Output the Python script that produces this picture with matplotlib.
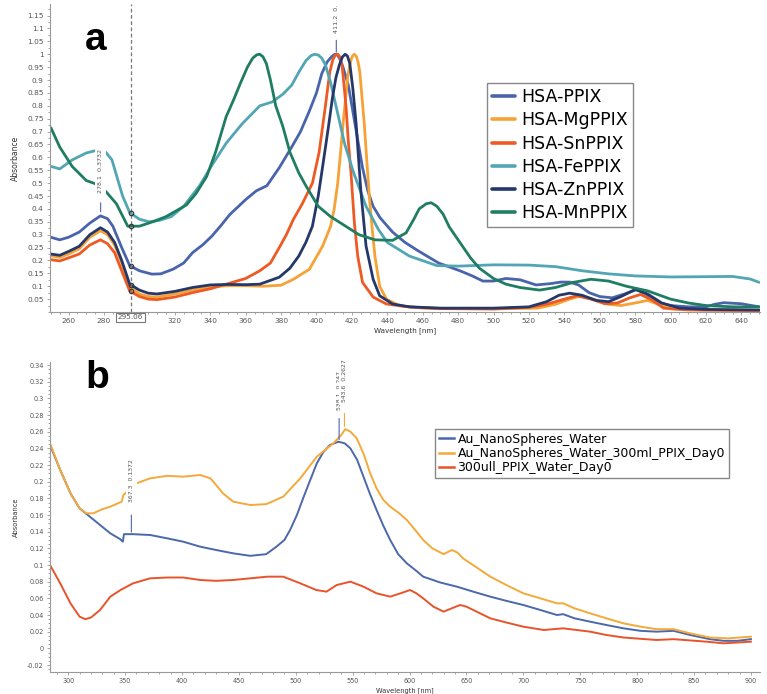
import matplotlib
matplotlib.use("Agg")
import matplotlib.pyplot as plt
import numpy as np
from matplotlib.ticker import FuncFormatter, MultipleLocator
import matplotlib.transforms as mtransforms

# ---- panel a : HSA complexes (wavelength nm, normalised absorbance)
hsa_ppix = np.array([
    (250, 0.29), (255, 0.28), (260, 0.29), (266, 0.31), (272, 0.345), (278, 0.373),
    (282, 0.362), (285, 0.333), (290, 0.25), (294.5, 0.18), (300, 0.16), (307, 0.147),
    (312, 0.148), (319, 0.166), (325, 0.19), (330, 0.23), (336, 0.262), (341, 0.295),
    (346, 0.335), (351, 0.378), (356, 0.41), (360, 0.436), (366, 0.47), (372, 0.49),
    (379, 0.56), (386, 0.64), (391, 0.70), (396, 0.78), (400, 0.85), (403, 0.925),
    (406, 0.97), (408.5, 0.99), (410.3, 1.0), (411.7, 0.998), (413, 0.985), (415, 0.95),
    (418, 0.88), (420, 0.80), (423, 0.68), (426, 0.56), (429, 0.47), (432, 0.41),
    (436, 0.365), (443, 0.31), (450, 0.27), (458, 0.235), (469, 0.19), (481, 0.16),
    (488, 0.14), (494, 0.12), (500, 0.12), (507, 0.13), (515, 0.125), (524, 0.105),
    (532, 0.11), (538, 0.116), (543, 0.116), (548, 0.105), (554, 0.075), (560, 0.06),
    (567, 0.055), (574, 0.07), (581, 0.088), (586, 0.07), (590, 0.05), (594, 0.035),
    (600, 0.025), (610, 0.02), (620, 0.02), (625, 0.03), (630, 0.036), (640, 0.032),
    (650, 0.02)])

hsa_mgppix = np.array([
    (250, 0.218), (255, 0.212), (260, 0.225), (266, 0.245), (272, 0.29), (278, 0.315),
    (282, 0.30), (286, 0.26), (290, 0.19), (294.5, 0.098), (300, 0.07), (305, 0.06),
    (310, 0.058), (320, 0.07), (330, 0.085), (340, 0.098), (350, 0.102), (360, 0.102),
    (370, 0.10), (380, 0.104), (387, 0.127), (396, 0.166), (403.5, 0.256), (408, 0.333),
    (410, 0.40), (412, 0.50), (413.5, 0.61), (415, 0.73), (416.5, 0.83), (417.7, 0.915),
    (419, 0.965), (420.2, 0.992), (421.4, 1.0), (422.5, 0.992), (423.5, 0.97), (424.5, 0.93),
    (425.5, 0.85), (427, 0.73), (428.5, 0.58), (430, 0.436), (431.5, 0.32), (433, 0.217),
    (435.7, 0.10), (439.5, 0.05), (447, 0.024), (460, 0.015), (500, 0.012), (525, 0.015),
    (535, 0.03), (543, 0.05), (549, 0.062), (556, 0.05), (565, 0.03), (572, 0.025),
    (580, 0.035), (587, 0.045), (593, 0.03), (600, 0.012), (620, 0.008), (650, 0.006)])

hsa_snppix = np.array([
    (250, 0.203), (255, 0.198), (260, 0.21), (266, 0.225), (272, 0.26), (278, 0.28),
    (282, 0.265), (286, 0.23), (290, 0.16), (294.5, 0.082), (300, 0.06), (305, 0.05),
    (310, 0.048), (320, 0.058), (330, 0.075), (340, 0.09), (350, 0.11), (360, 0.13),
    (368, 0.16), (374, 0.19), (379, 0.25), (383, 0.30), (387, 0.36), (392, 0.42),
    (397.7, 0.50), (401.5, 0.62), (405, 0.797), (407.5, 0.93), (409.3, 0.98), (410.7, 0.997),
    (412, 1.0), (413.2, 0.99), (414.5, 0.955), (416.7, 0.797), (418, 0.66), (419.5, 0.54),
    (421.4, 0.347), (423.3, 0.217), (426, 0.115), (432, 0.058), (439.5, 0.031), (452, 0.02),
    (470, 0.013), (500, 0.012), (520, 0.018), (530, 0.03), (540, 0.05), (547, 0.063),
    (555, 0.05), (563, 0.032), (570, 0.035), (577, 0.055), (583, 0.068), (590, 0.045),
    (596, 0.015), (610, 0.008), (650, 0.005)])

hsa_feppix = np.array([
    (250, 0.565), (255, 0.555), (262, 0.59), (270, 0.617), (277.5, 0.63), (281, 0.62),
    (284.5, 0.59), (290.5, 0.45), (294.5, 0.386), (300, 0.36), (305.6, 0.35), (311, 0.355),
    (318, 0.37), (325, 0.41), (334, 0.49), (341, 0.57), (349, 0.655), (358, 0.73),
    (368, 0.80), (375, 0.815), (381, 0.845), (386, 0.88), (390, 0.93), (394, 0.975),
    (397, 0.995), (399, 1.0), (401, 0.997), (403, 0.985), (405, 0.96), (408, 0.89),
    (411, 0.80), (416, 0.65), (421, 0.54), (428, 0.41), (435, 0.32), (440, 0.27),
    (452.5, 0.217), (468, 0.18), (480, 0.178), (500, 0.183), (520, 0.182), (535, 0.176),
    (550, 0.16), (565, 0.148), (580, 0.14), (600, 0.136), (620, 0.137), (635, 0.138),
    (645, 0.128), (650, 0.115)])

hsa_znppix = np.array([
    (250, 0.225), (255, 0.22), (260, 0.235), (266, 0.255), (272, 0.30), (278, 0.327),
    (282, 0.31), (286, 0.27), (290, 0.20), (294.5, 0.108), (300, 0.085), (305, 0.073),
    (310, 0.07), (320, 0.08), (330, 0.095), (340, 0.105), (350, 0.107), (360, 0.106),
    (368, 0.108), (379, 0.135), (385, 0.17), (390, 0.217), (394, 0.27), (397.7, 0.333),
    (401, 0.45), (403.5, 0.565), (407, 0.73), (409, 0.83), (411, 0.91), (413, 0.96),
    (414.7, 0.99), (416.2, 1.0), (417.5, 0.993), (418.8, 0.965), (420.5, 0.87), (422.4, 0.73),
    (425, 0.475), (428, 0.256), (432, 0.127), (435.7, 0.063), (443, 0.031), (452.5, 0.02),
    (470, 0.015), (500, 0.015), (520, 0.02), (530, 0.04), (537, 0.065), (543, 0.073),
    (550, 0.065), (558, 0.045), (565, 0.04), (572, 0.06), (580, 0.087), (587, 0.07),
    (595, 0.035), (605, 0.015), (620, 0.01), (650, 0.008)])

hsa_mnppix = np.array([
    (250, 0.715), (255, 0.64), (262, 0.565), (270, 0.51), (275, 0.498), (281, 0.468),
    (287, 0.42), (293.4, 0.333), (300, 0.333), (307.5, 0.35), (315, 0.37), (326.5, 0.415),
    (332, 0.46), (338, 0.526), (343, 0.62), (349, 0.758), (353, 0.82), (357, 0.887),
    (361, 0.95), (364, 0.985), (366.3, 0.998), (368, 1.0), (369.8, 0.99), (371.7, 0.964),
    (374, 0.90), (377, 0.80), (381, 0.72), (385, 0.62), (390, 0.54), (394, 0.49),
    (401, 0.41), (408, 0.37), (416, 0.335), (424, 0.30), (433, 0.28), (443, 0.278),
    (450.6, 0.307), (455, 0.36), (458, 0.40), (462, 0.42), (464.8, 0.424), (468, 0.41),
    (471.5, 0.38), (475, 0.33), (481, 0.27), (487, 0.21), (492, 0.17), (500, 0.13),
    (507, 0.108), (515, 0.095), (526, 0.085), (535, 0.095), (545, 0.115), (555, 0.127),
    (565, 0.12), (575, 0.10), (587, 0.082), (600, 0.05), (610, 0.035), (620, 0.025),
    (635, 0.02), (650, 0.02)])

names_a = ["HSA-PPIX", "HSA-MgPPIX", "HSA-SnPPIX", "HSA-FePPIX", "HSA-ZnPPIX", "HSA-MnPPIX"]
series_a = [hsa_ppix, hsa_mgppix, hsa_snppix, hsa_feppix, hsa_znppix, hsa_mnppix]
colors_a = ["#4a64ac", "#f5a236", "#ee5a24", "#52a6b4", "#25386a", "#1f7d62"]

# ---- panel b : gold nanospheres
au_water = np.array([
    (284, 0.244), (293, 0.214), (302, 0.186), (310, 0.168), (319, 0.158), (328, 0.148),
    (337, 0.138), (345.7, 0.131), (348, 0.128), (349, 0.137), (357, 0.137), (372, 0.136),
    (387, 0.132), (401, 0.128), (416, 0.122), (430, 0.118), (445, 0.114), (460, 0.111),
    (474, 0.113), (483, 0.122), (490, 0.13), (495, 0.142), (501, 0.16), (507, 0.182),
    (513, 0.203), (518.5, 0.222), (524, 0.235), (530, 0.244), (537.5, 0.248), (543, 0.246),
    (548, 0.24), (554, 0.226), (559.5, 0.206), (565, 0.186), (571, 0.166), (577, 0.147),
    (583, 0.13), (590, 0.113), (597.6, 0.102), (605, 0.094), (612, 0.086), (627, 0.079),
    (641.6, 0.074), (656, 0.068), (671, 0.062), (685, 0.057), (700, 0.052), (715, 0.046),
    (729.5, 0.04), (735, 0.041), (745, 0.036), (758.7, 0.032), (773, 0.028), (788, 0.024),
    (803, 0.021), (817, 0.02), (832, 0.021), (846.6, 0.016), (864, 0.011), (876, 0.009),
    (888, 0.009), (900, 0.011)])

au_water_ppix = np.array([
    (284, 0.246), (293, 0.214), (302, 0.186), (310, 0.168), (316, 0.162), (322, 0.162),
    (330, 0.167), (337, 0.17), (347, 0.176), (348.5, 0.184), (351, 0.187), (360, 0.198),
    (372, 0.204), (387, 0.207), (401, 0.206), (416, 0.208), (425, 0.204), (430, 0.196),
    (436, 0.186), (445, 0.176), (460, 0.172), (474, 0.173), (489, 0.182), (504, 0.204),
    (518.5, 0.23), (533, 0.246), (540, 0.256), (543.5, 0.263), (548, 0.26), (553.6, 0.252),
    (560, 0.232), (565.4, 0.21), (571, 0.192), (577, 0.178), (583, 0.17), (591, 0.162),
    (597.6, 0.154), (605, 0.142), (612, 0.13), (620, 0.12), (630, 0.113), (637, 0.118),
    (642, 0.115), (647, 0.108), (659, 0.097), (671, 0.086), (685, 0.076), (700, 0.066),
    (715, 0.06), (729.5, 0.054), (735, 0.054), (745, 0.048), (758.7, 0.042), (773, 0.036),
    (788, 0.03), (803, 0.026), (817, 0.023), (832, 0.023), (846.6, 0.018), (864, 0.013),
    (880, 0.012), (900, 0.014)])

ppix_water = np.array([
    (284, 0.10), (293, 0.078), (302, 0.054), (310, 0.038), (315, 0.035), (320, 0.037),
    (328, 0.046), (337, 0.062), (346, 0.07), (357, 0.078), (372, 0.084), (387, 0.085),
    (401, 0.085), (416, 0.082), (430, 0.081), (445, 0.082), (460, 0.084), (475, 0.086),
    (489, 0.086), (504, 0.078), (518, 0.07), (527, 0.068), (536, 0.076), (548, 0.08),
    (559.5, 0.074), (571, 0.066), (583, 0.062), (592, 0.066), (600.5, 0.07), (606, 0.066),
    (612, 0.06), (621, 0.05), (630, 0.044), (637, 0.048), (644.5, 0.052), (650, 0.05),
    (656, 0.046), (671, 0.036), (685, 0.031), (700, 0.026), (718, 0.022), (735, 0.024),
    (758.7, 0.02), (773, 0.016), (788, 0.013), (817, 0.01), (832, 0.011), (861, 0.008),
    (876, 0.006), (900, 0.008)])

names_b = ["Au_NanoSpheres_Water", "Au_NanoSpheres_Water_300ml_PPIX_Day0", "300ull_PPIX_Water_Day0"]
series_b = [au_water, au_water_ppix, ppix_water]
colors_b = ["#4a68aa", "#f4a93a", "#e8532b"]

GRAY = "#555555"


def fmt(v, pos):
    return f"{round(v, 3):g}"


def style_axes(ax, tick_size):
    for s in ["top", "right"]:
        ax.spines[s].set_visible(False)
    for s in ["left", "bottom"]:
        ax.spines[s].set_color("#999999")
        ax.spines[s].set_linewidth(0.8)
    ax.tick_params(which="both", colors="#999999", labelcolor=GRAY, labelsize=tick_size, width=0.6)
    ax.tick_params(which="major", length=2.5, pad=2)
    ax.tick_params(which="minor", length=1.3)
    ax.yaxis.set_major_formatter(FuncFormatter(fmt))


def peak_label(ax, x, y, text, color, y0, y1, ty, size):
    # marker line from y0 to y1 px above the point, text starting ty px above
    k = 0.72
    ax.annotate("", xy=(x, y), xytext=(0, y1 * k), textcoords="offset points",
                arrowprops=dict(arrowstyle="-", color=color, lw=0.8, shrinkA=0, shrinkB=y0 * k))
    ax.annotate(text, xy=(x, y), xytext=(0, ty * k), textcoords="offset points",
                rotation=90, ha="center", va="bottom", fontsize=size, color=GRAY, zorder=5,
                bbox=dict(boxstyle="square,pad=0.5", fc="white", ec="none"))


fig = plt.figure(figsize=(7.67, 6.94), dpi=100)
ax_a = fig.add_axes([50 / 767, 1 - 312 / 694, 710 / 767, 308 / 694])
ax_b = fig.add_axes([50 / 767, 1 - 672 / 694, 710 / 767, 310 / 694])

# panel a
for data, name, c in zip(series_a, names_a, colors_a):
    ax_a.plot(data[:, 0], data[:, 1], color=c, lw=2.0, label=name, solid_capstyle="round")

cursor = 295.06
ax_a.axvline(cursor, color="#777777", lw=0.9, ls=(0, (3, 2)))
for data in [hsa_feppix, hsa_mnppix, hsa_ppix, hsa_znppix, hsa_snppix]:
    ax_a.plot([cursor], [np.interp(cursor, data[:, 0], data[:, 1])], "o", ms=3.2,
              mfc="none", mec="#333333", mew=0.8)
trans = mtransforms.blended_transform_factory(ax_a.transData, ax_a.transAxes)
ax_a.text(cursor, -0.008, "295.06", transform=trans, ha="center", va="top", fontsize=5.2,
          color=GRAY, bbox=dict(boxstyle="square,pad=0.25", fc="white", ec="#777777", lw=0.8))

ax_a.set_xlim(249.5, 650.5)
ax_a.set_ylim(0, 1.195)
ax_a.set_xticks(np.arange(260, 641, 20))
ax_a.xaxis.set_minor_locator(MultipleLocator(5))
ax_a.xaxis.set_major_formatter(FuncFormatter(lambda v, p: "" if abs(v - 300) < 1 else f"{v:g}"))
ax_a.set_yticks(np.arange(0.05, 1.151, 0.05))
ax_a.yaxis.set_minor_locator(MultipleLocator(0.025))
style_axes(ax_a, 5.3)
ax_a.set_xlabel("Wavelength [nm]", fontsize=5.2, color="#333333", labelpad=2)
ax_a.set_ylabel("Absorbance", fontsize=5.5, color="#333333", labelpad=5)

peak_label(ax_a, 278.1, 0.3732, "278.1  0.3732", "#4a64ac", 4, 13, 23, 4.6)
peak_label(ax_a, 411.2, 1.0, "411.2  0.", "#4a64ac", 2, 14, 21, 4.6)

leg = ax_a.legend(loc="upper left", bbox_to_anchor=((487 - 50) / 710, (312 - 83) / 308),
                  borderaxespad=0, fontsize=12.5, handlelength=1.3, handletextpad=0.35,
                  labelspacing=0.3, borderpad=0.3, fancybox=False, framealpha=1)
leg.get_frame().set_edgecolor("#888888")
leg.get_frame().set_linewidth(1.0)
for h in leg.get_lines():
    h.set_linewidth(2.6)

# panel b
for data, name, c in zip(series_b, names_b, colors_b):
    ax_b.plot(data[:, 0], data[:, 1], color=c, lw=1.4, label=name)

ax_b.set_xlim(284, 908)
ax_b.set_ylim(-0.0284, 0.3436)
ax_b.set_xticks(np.arange(300, 901, 50))
ax_b.xaxis.set_minor_locator(MultipleLocator(10))
ax_b.set_yticks(np.arange(-0.02, 0.341, 0.02))
ax_b.yaxis.set_minor_locator(MultipleLocator(0.005))
style_axes(ax_b, 4.7)
ax_b.set_xlabel("Wavelength [nm]", fontsize=4.8, color="#333333", labelpad=2)
ax_b.set_ylabel("Absorbance", fontsize=4.8, color="#333333", labelpad=6)

peak_label(ax_b, 355.5, 0.1372, "367.3  0.1372", "#4a68aa", 2, 19, 32, 4.4)
peak_label(ax_b, 538.1, 0.247, "538.1  0.247", "#4a68aa", 3, 24, 33, 4.4)
peak_label(ax_b, 542.8, 0.2627, "543.6  0.2627", "#f4a93a", 3, 22, 27, 4.4)

leg_b = ax_b.legend(loc="upper left", bbox_to_anchor=((435 - 50) / 710, (672 - 429) / 310),
                    borderaxespad=0, fontsize=9, handlelength=1.2, handletextpad=0.3,
                    labelspacing=0.1, borderpad=0.3, fancybox=False, framealpha=1)
leg_b.get_frame().set_edgecolor("#888888")
leg_b.get_frame().set_linewidth(1.0)
for h in leg_b.get_lines():
    h.set_linewidth(1.8)

# panel letters
fig.text(85 / 767, 1 - 50 / 694, "a", fontsize=28, fontweight="bold",
         family="Liberation Sans", va="baseline")
fig.text(85 / 767, 1 - 388 / 694, "b", fontsize=28, fontweight="bold",
         family="Liberation Sans", va="baseline")

fig.savefig("out.png", dpi=100)
plt.close(fig)
